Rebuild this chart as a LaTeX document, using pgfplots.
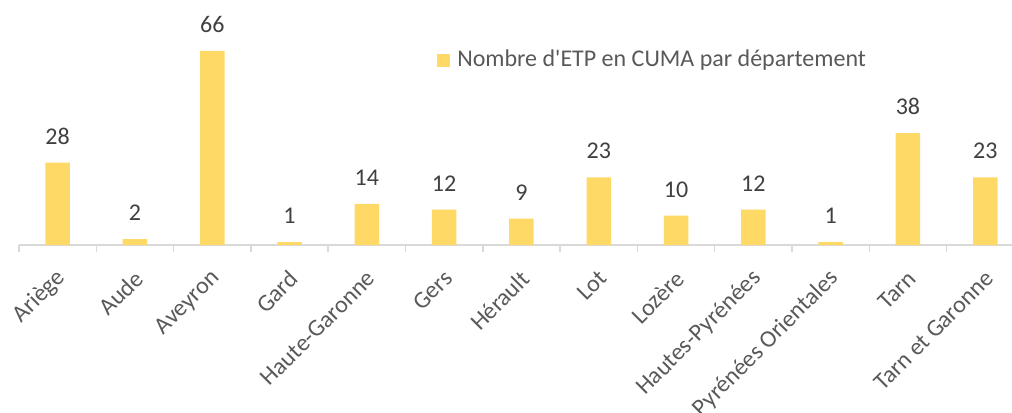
\documentclass[border=0pt]{standalone}
\usepackage{fontspec}
\setmainfont{Carlito}
\usepackage{pgfplots}
\pgfplotsset{compat=1.18}
\definecolor{barfill}{HTML}{FFD966}
\definecolor{axisgray}{HTML}{D9D9D9}
\definecolor{labelgray}{HTML}{595959}
\definecolor{valgray}{HTML}{404040}
\newcommand{\chartfont}{\fontsize{24bp}{28bp}\selectfont}

\begin{document}
\chartfont
\begin{tikzpicture}
\begin{axis}[
    scale only axis,
    width=993bp, height=245bp,
    xmin=-0.5, xmax=12.346,
    ymin=0, ymax=83.3,
    /pgf/number format/assume math mode=true,
    axis x line*=bottom,
    axis y line=none,
    axis line style={axisgray, line width=1.5bp, -},
    xtick={0,...,12},
    xticklabels={Ariège, Aude, Aveyron, Gard, Haute-Garonne, Gers, Hérault, Lot, Lozère, Hautes-Pyrénées, Pyrénées Orientales, Tarn, Tarn et Garonne},
    major tick length=0pt,
    minor xtick={-0.5,0.5,...,11.5},
    minor tick length=7bp,
    tick align=outside,
    minor tick style={axisgray, line width=1.5bp},
    xticklabel style={font=\chartfont, text=labelgray, rotate=45, anchor=east, xshift=-10bp, yshift=-24bp},
    ybar, bar width=24.5bp,
    bar shift=0pt,
    nodes near coords,
    every node near coord/.append style={font=\chartfont, text=valgray, anchor=south, inner sep=0pt, yshift=18bp},
    legend style={at={(0.421,0.755)}, anchor=west, draw=none, fill=none, font=\chartfont, text=labelgray, inner sep=0pt},
    legend image code/.code={\fill[barfill] (0bp,-6.5bp) rectangle (13bp,6.5bp); \path (18bp,0bp);},
]
\addplot[fill=barfill, draw=none] coordinates {
    (0,28) (1,2) (2,66) (3,1) (4,14) (5,12) (6,9) (7,23) (8,10) (9,12) (10,1) (11,38) (12,23)
};
\addlegendentry{Nombre d\textquotesingle ETP en CUMA par département}
\end{axis}
\pgfresetboundingbox
\useasboundingbox (-19bp,-168bp) rectangle (993bp,245bp);
\end{tikzpicture}
\end{document}
